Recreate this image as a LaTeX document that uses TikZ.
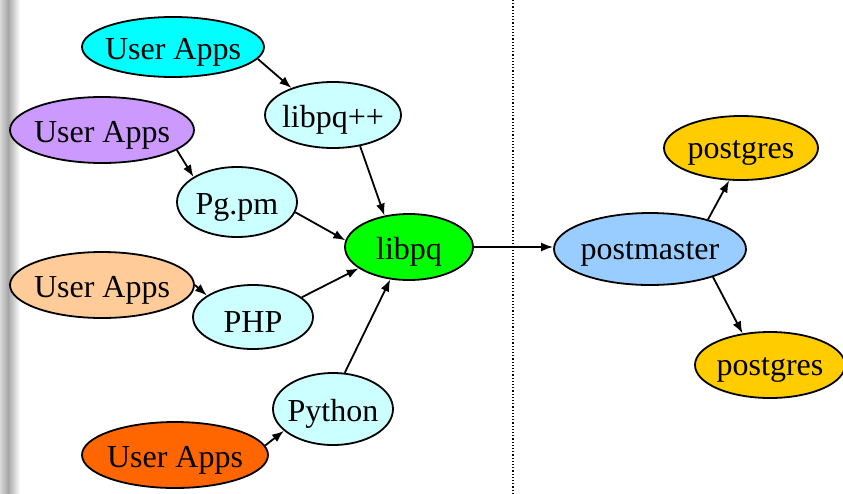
\documentclass[tikz,border=0pt]{standalone}
\usepackage{fontspec}
\setmainfont{Liberation Serif}
\usetikzlibrary{shapes.geometric,arrows.meta}
\definecolor{cCyan}{HTML}{00FFFF}
\definecolor{cPurple}{HTML}{CC99FF}
\definecolor{cPeach}{HTML}{FFCC99}
\definecolor{cOrange}{HTML}{FF6600}
\definecolor{cLight}{HTML}{CCFFFF}
\definecolor{cGreen}{HTML}{00FF00}
\definecolor{cBlue}{HTML}{99CCFF}
\definecolor{cGold}{HTML}{FFCC00}
\tikzset{
  ell/.style={ellipse, draw=black, line width=1.8pt, inner sep=0pt,
    label={[font=\fontsize{32}{36}\selectfont, inner sep=0pt, yshift=-5pt]center:#1}},
  conn/.style={line width=1.8pt, -{Latex[length=12pt,width=9pt]}},
}
\begin{document}
\begin{tikzpicture}[x=1pt,y=-1pt]
\useasboundingbox (0,0) rectangle (843,493);
\fill[white] (0,0) rectangle (843,493);
\shade[left color=gray!30, right color=gray!70] (0,0) rectangle (8,493);
\shade[left color=gray!70, right color=white] (8,0) rectangle (20,493);
\draw[dotted, line width=1.2pt] (513,0) -- (513,493);

\node[ell=User Apps, fill=cCyan, minimum width=182pt, minimum height=60pt] (ua1) at (173,47) {};
\node[ell=User Apps, fill=cPurple, minimum width=184pt, minimum height=66pt] (ua2) at (102,130) {};
\node[ell=User Apps, fill=cPeach, minimum width=184pt, minimum height=66pt] (ua3) at (102,285) {};
\node[ell=User Apps, fill=cOrange, minimum width=186pt, minimum height=66pt] (ua4) at (175,455) {};
\node[ell=libpq++, fill=cLight, minimum width=136pt, minimum height=66pt] (lpp) at (333,115) {};
\node[ell=Pg.pm, fill=cLight, minimum width=120pt, minimum height=70pt] (pg) at (237,202) {};
\node[ell=PHP, fill=cLight, minimum width=120pt, minimum height=64pt] (php) at (253,317) {};
\node[ell=Python, fill=cLight, minimum width=120pt, minimum height=72pt] (py) at (333,409) {};
\node[ell=libpq, fill=cGreen, minimum width=128pt, minimum height=66pt] (lpq) at (409,247) {};
\node[ell=postmaster, fill=cBlue, minimum width=192pt, minimum height=72pt] (pm) at (650,249) {};
\node[ell=postgres, fill=cGold, minimum width=154pt, minimum height=64pt] (pg1) at (741,148) {};
\node[ell=postgres, fill=cGold, minimum width=150pt, minimum height=66pt] (pg2) at (770,365) {};

\draw[conn] (ua1.-8) -- (lpp.147);
\draw[conn] (ua2.-15) -- (pg.150);
\draw[conn] (lpp.-49) -- (lpq.128);
\draw[conn] (pg.-10) -- (lpq.174);
\draw[conn] (ua3.0) -- (php.155);
\draw[conn] (php.22) -- (lpq.203);
\draw[conn] (py.72) -- (lpq.240);
\draw[conn] (ua4.6) -- (py.204);
\draw[conn] (lpq.east) -- (lpq.east -| pm.west);
\draw[conn] (pm.27) -- (pg1.250);
\draw[conn] (pm.-24) -- (pg2.131);
\end{tikzpicture}
\end{document}
